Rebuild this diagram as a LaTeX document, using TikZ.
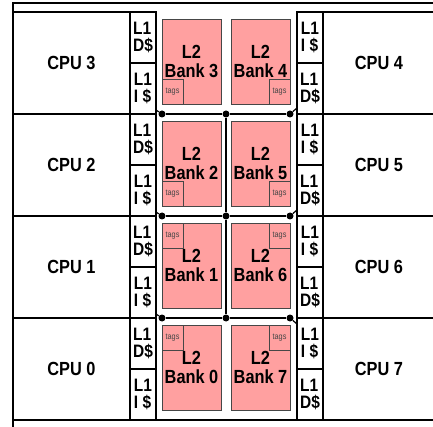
\documentclass[tikz,border=0pt]{standalone}
\usepackage{fontspec}
\setmainfont{Liberation Sans}[FakeStretch=0.86]
\usepackage{tikz}
\usetikzlibrary{positioning}
\definecolor{bankpink}{RGB}{255,160,160}
\definecolor{edgegray}{RGB}{70,70,70}

\begin{document}
\begin{tikzpicture}[x=1pt, y=-1pt,
    cpu/.style={rectangle, draw=black, line width=1.5pt, fill=white,
                minimum width=117pt, minimum height=102pt,
                outer sep=0pt, inner sep=0pt,
                font=\fontsize{19}{19}\selectfont\bfseries},
    cpur/.style={cpu, minimum width=112pt},
    l1/.style={rectangle, draw=black, line width=1.2pt, fill=white,
               minimum width=26pt, minimum height=51pt,
               outer sep=0pt, inner sep=0pt, align=left,
               font=\fontsize{18}{17}\selectfont\bfseries},
    bank/.style={rectangle, draw=edgegray, line width=0.8pt, fill=bankpink,
                 minimum width=59pt, minimum height=85pt,
                 outer sep=0pt, inner sep=0pt, align=center,
                 font=\fontsize{19}{19}\selectfont\bfseries},
    tagbox/.style={rectangle, draw=edgegray, line width=0.8pt, fill=bankpink,
                   minimum width=21pt, minimum height=25pt,
                   outer sep=0pt, inner sep=0pt, text=edgegray,
                   font=\fontsize{8.5}{9}\selectfont},
    frame/.style={line width=1.5pt},
    bus/.style={line width=2.2pt},
    tap/.style={line width=1.2pt},
    dot/.style={circle, fill=black, minimum size=7pt, inner sep=0pt},
]
\useasboundingbox (0,0) rectangle (433,427);
\clip (0,0) rectangle (433,427);

%% ── Frame ───────────────────────────────────────────────────────────────────
\draw[frame] (12,3)   -- (433,3);
\draw[frame] (13,3)   -- (13,427);
\draw[frame] (13,420) -- (433,420);

%% ── Left CPUs + L1 ──────────────────────────────────────────────────────────
\node[cpu, anchor=north west]  (cpu3) at (13,12) {CPU 3};
\node[cpu, below=0pt of cpu3]  (cpu2)           {CPU 2};
\node[cpu, below=0pt of cpu2]  (cpu1)           {CPU 1};
\node[cpu, below=0pt of cpu1]  (cpu0)           {CPU 0};

\node[l1, anchor=north west]   (d3) at (cpu3.north east) {L1\\D\$};
\node[l1, below=0pt of d3]     (i3)     {L1\\I \$};
\node[l1, below=0pt of i3]     (d2)     {L1\\D\$};
\node[l1, below=0pt of d2]     (i2)     {L1\\I \$};
\node[l1, below=0pt of i2]     (d1)     {L1\\D\$};
\node[l1, below=0pt of d1]     (i1)     {L1\\I \$};
\node[l1, below=0pt of i1]     (d0)     {L1\\D\$};
\node[l1, below=0pt of d0]     (i0)     {L1\\I \$};

%% ── Right CPUs + L1 ─────────────────────────────────────────────────────────
\node[l1, anchor=north west]   (i4) at (297,12) {L1\\I \$};
\node[l1, below=0pt of i4]     (d4)     {L1\\D\$};
\node[l1, below=0pt of d4]     (i5)     {L1\\I \$};
\node[l1, below=0pt of i5]     (d5)     {L1\\D\$};
\node[l1, below=0pt of d5]     (i6)     {L1\\I \$};
\node[l1, below=0pt of i6]     (d6)     {L1\\D\$};
\node[l1, below=0pt of d6]     (i7)     {L1\\I \$};
\node[l1, below=0pt of i7]     (d7)     {L1\\D\$};

\node[cpur, anchor=north west] (cpu4) at (i4.north east) {CPU 4};
\node[cpur, below=0pt of cpu4] (cpu5)           {CPU 5};
\node[cpur, below=0pt of cpu5] (cpu6)           {CPU 6};
\node[cpur, below=0pt of cpu6] (cpu7)           {CPU 7};

%% ── L2 banks ────────────────────────────────────────────────────────────────
\node[bank, anchor=north west] (bk3) at (162,19) {L2\\Bank 3};
\node[bank, below=17pt of bk3] (bk2)             {L2\\Bank 2};
\node[bank, below=17pt of bk2] (bk1)             {L2\\Bank 1};
\node[bank, below=17pt of bk1] (bk0)             {L2\\Bank 0};
\node[bank, anchor=north west] (bk4) at (231,19) {L2\\Bank 4};
\node[bank, below=17pt of bk4] (bk5)             {L2\\Bank 5};
\node[bank, below=17pt of bk5] (bk6)             {L2\\Bank 6};
\node[bank, below=17pt of bk6] (bk7)             {L2\\Bank 7};

\node[tagbox, anchor=south west] (t3) at (bk3.south west) {tags};
\node[tagbox, anchor=south west] (t2) at (bk2.south west) {tags};
\node[tagbox, anchor=north west] (t1) at (bk1.north west) {tags};
\node[tagbox, anchor=north west] (t0) at (bk0.north west) {tags};
\node[tagbox, anchor=south east] (t4) at (bk4.south east) {tags};
\node[tagbox, anchor=south east] (t5) at (bk5.south east) {tags};
\node[tagbox, anchor=north east] (t6) at (bk6.north east) {tags};
\node[tagbox, anchor=north east] (t7) at (bk7.north east) {tags};

%% ── Bus ─────────────────────────────────────────────────────────────────────
\node[dot] (la) at (162,114) {};
\node[dot] (ma) at (226,114) {};
\node[dot] (ra) at (290,114) {};
\node[dot] (lb) at (162,216) {};
\node[dot] (mb) at (226,216) {};
\node[dot] (rb) at (290,216) {};
\node[dot] (lc) at (162,318) {};
\node[dot] (mc) at (226,318) {};
\node[dot] (rc) at (290,318) {};

\draw[bus] (la) -- (ma) -- (ra);
\draw[bus] (lb) -- (mb) -- (rb);
\draw[bus] (lc) -- (mc) -- (rc);
\draw[bus] (ma) -- (mb) -- (mc);

% taps to the L1 columns
\draw[tap] ([yshift=4pt]i3.south east) -- (la);
\draw[tap] ([yshift=4pt]i2.south east) -- (lb);
\draw[tap] ([yshift=4pt]i1.south east) -- (lc);
\draw[tap] (ra) -- ([yshift=6pt]d4.south west);
\draw[tap] (rb) -- ([yshift=6pt]d5.south west);
\draw[tap] (rc) -- ([yshift=-6pt]i7.north west);

\end{tikzpicture}
\end{document}
